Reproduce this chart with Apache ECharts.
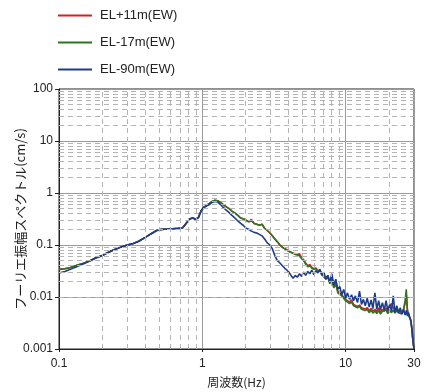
<!DOCTYPE html>
<html><head><meta charset="utf-8">
<script src="https://cdn.jsdelivr.net/npm/echarts@6/dist/echarts.min.js"></script>
<style>html,body{margin:0;padding:0;background:#fff}#c{width:426px;height:392px}</style>
</head><body><div id="c"></div>
<script>
const seriesNames = ['EL+11m(EW)', 'EL-17m(EW)', 'EL-90m(EW)'];
const freq = [0.1, 0.11, 0.12, 0.135, 0.15, 0.165, 0.18, 0.2, 0.22, 0.24, 0.27, 0.3, 0.33, 0.36, 0.4, 0.44, 0.48, 0.52, 0.57, 0.62, 0.68, 0.73, 0.78, 0.82, 0.86, 0.9, 0.94, 0.98, 1.02, 1.07, 1.12, 1.17, 1.22, 1.28, 1.34, 1.4, 1.47, 1.54, 1.61, 1.69, 1.77, 1.85, 1.93, 2.02, 2.11, 2.2, 2.3, 2.4, 2.5, 2.61, 2.72, 2.84, 2.96, 3.08, 3.21, 3.34, 3.48,
  3.62, 3.75, 3.88, 4.02, 4.16, 4.3, 4.45, 4.6, 4.76, 4.92, 5.09, 5.26, 5.44, 5.62, 5.81, 6.0, 6.2, 6.4, 6.61, 6.83, 7.05, 7.28, 7.52, 7.76, 8.01, 8.27, 8.54, 8.82, 9.1, 9.4, 9.7, 10.0, 10.3, 10.65, 11.0, 11.35, 11.7, 12.1, 12.5, 12.9, 13.3, 13.7, 14.15, 14.6, 15.05, 15.5, 16.0, 16.5, 17.0, 17.5, 18.05, 18.6, 19.15, 19.7, 20.3, 20.9, 21.5, 22.1, 22.75, 23.4, 24.05, 24.7, 25.35, 26.0, 26.5, 27.0, 27.5, 28.0, 28.5, 29.0, 29.5, 30.0];
const elP11 = [0.034, 0.035, 0.037, 0.041, 0.045, 0.05, 0.056, 0.063, 0.072, 0.08, 0.091, 0.1, 0.107, 0.118, 0.14, 0.165, 0.19, 0.2, 0.203, 0.206, 0.21, 0.215, 0.27, 0.32, 0.33, 0.31, 0.34, 0.45, 0.53, 0.58, 0.63, 0.69, 0.72, 0.71, 0.66, 0.6, 0.54, 0.5, 0.45, 0.41, 0.37, 0.33, 0.32, 0.3, 0.28, 0.31, 0.26, 0.25, 0.24, 0.25, 0.21, 0.19, 0.17, 0.15, 0.13, 0.115, 0.1,
  0.09, 0.086, 0.081, 0.076, 0.073, 0.07, 0.067, 0.066, 0.068, 0.057, 0.052, 0.045, 0.04, 0.042, 0.037, 0.035, 0.036, 0.032, 0.033, 0.028, 0.03, 0.023, 0.026, 0.019, 0.023, 0.016, 0.02, 0.013, 0.014, 0.011, 0.012, 0.009, 0.0098, 0.008, 0.0088, 0.0072, 0.0078, 0.0066, 0.007, 0.0062, 0.0066, 0.0059, 0.0062, 0.0054, 0.006, 0.0053, 0.0058, 0.0052, 0.0062, 0.0051, 0.0058, 0.0053, 0.0062, 0.0052, 0.0065, 0.0075, 0.0062, 0.0054, 0.006, 0.0054, 0.0058, 0.005, 0.0058, 0.0075, 0.011, 0.0055, 0.0045, 0.004, 0.0035, 0.0024, 0.0014, 0.001];
const elM17 = [0.034, 0.035, 0.037, 0.041, 0.045, 0.05, 0.056, 0.063, 0.072, 0.08, 0.091, 0.1, 0.107, 0.118, 0.14, 0.165, 0.19, 0.2, 0.203, 0.206, 0.21, 0.215, 0.27, 0.32, 0.33, 0.31, 0.34, 0.45, 0.53, 0.58, 0.63, 0.69, 0.72, 0.71, 0.66, 0.6, 0.54, 0.5, 0.45, 0.41, 0.37, 0.33, 0.32, 0.3, 0.28, 0.29, 0.26, 0.25, 0.24, 0.25, 0.21, 0.19, 0.17, 0.15, 0.13, 0.115, 0.1,
  0.09, 0.085, 0.08, 0.075, 0.072, 0.069, 0.066, 0.064, 0.062, 0.055, 0.05, 0.043, 0.038, 0.04, 0.036, 0.034, 0.035, 0.031, 0.032, 0.027, 0.029, 0.022, 0.024, 0.018, 0.021, 0.015, 0.018, 0.012, 0.013, 0.0105, 0.011, 0.0085, 0.009, 0.0075, 0.008, 0.0068, 0.0072, 0.0062, 0.0066, 0.0058, 0.0062, 0.0055, 0.0058, 0.005, 0.0056, 0.0049, 0.0054, 0.0048, 0.0055, 0.0047, 0.0053, 0.0049, 0.0056, 0.0048, 0.0055, 0.005, 0.0056, 0.0049, 0.0055, 0.005, 0.0054, 0.0047, 0.0056, 0.0085, 0.014, 0.0055, 0.0045, 0.004, 0.0035, 0.0024, 0.0014, 0.001];
const elM90 = [0.029, 0.031, 0.034, 0.039, 0.044, 0.05, 0.056, 0.063, 0.072, 0.08, 0.091, 0.1, 0.107, 0.118, 0.14, 0.165, 0.19, 0.2, 0.203, 0.206, 0.21, 0.215, 0.27, 0.32, 0.33, 0.31, 0.34, 0.45, 0.52, 0.56, 0.6, 0.66, 0.69, 0.67, 0.6, 0.53, 0.47, 0.42, 0.37, 0.33, 0.29, 0.26, 0.24, 0.21, 0.2, 0.185, 0.175, 0.17, 0.16, 0.15, 0.13, 0.11, 0.1, 0.085, 0.062, 0.05, 0.045,
  0.04, 0.036, 0.033, 0.03, 0.026, 0.023, 0.026, 0.024, 0.028, 0.025, 0.03, 0.026, 0.031, 0.028, 0.033, 0.027, 0.032, 0.029, 0.034, 0.026, 0.03, 0.022, 0.026, 0.019, 0.028, 0.017, 0.022, 0.014, 0.016, 0.011, 0.014, 0.0095, 0.012, 0.009, 0.011, 0.0085, 0.0105, 0.0078, 0.013, 0.0072, 0.009, 0.0068, 0.0095, 0.0064, 0.0088, 0.006, 0.012, 0.0058, 0.0085, 0.0057, 0.0078, 0.0056, 0.0085, 0.0055, 0.0072, 0.0053, 0.0105, 0.005, 0.0068, 0.0049, 0.0062, 0.0047, 0.0058, 0.0045, 0.0055, 0.0043, 0.005, 0.0041, 0.0036, 0.0025, 0.0015, 0.001];
const minorX = [0.2, 0.3, 0.4, 0.5, 0.6, 0.7, 0.8, 0.9, 2, 3, 4, 5, 6, 7, 8, 9, 20];
const minorY = [0.002, 0.003, 0.004, 0.005, 0.006, 0.007, 0.008, 0.009, 0.02, 0.03, 0.04, 0.05, 0.06, 0.07, 0.08, 0.09, 0.2, 0.3, 0.4, 0.5, 0.6, 0.7, 0.8, 0.9, 2, 3, 4, 5, 6, 7, 8, 9, 20, 30, 40, 50, 60, 70, 80, 90];
const colors = ['#d42020', '#2f7420', '#1c3c8c'];
const values = [elP11, elM17, elM90];

const chart = echarts.init(document.getElementById('c'));
const fontEn = "'Liberation Sans', Arial, sans-serif";
const fontJp = "'Noto Sans CJK JP', sans-serif";
const series = [{
  type: 'line', name: '_grid', data: [], z: 1, silent: true,
  markLine: {
    silent: true, symbol: ['none', 'none'], label: {show: false},
    lineStyle: {type: [5, 4], color: '#b4b4b4', width: 1},
    emphasis: {disabled: true},
    data: minorX.map(v => ({xAxis: v})).concat(minorY.map(v => ({yAxis: v})))
  }
}];
seriesNames.forEach((n, i) => {
  series.push({
    type: 'line', name: n, z: 2 + i, symbol: 'none', showSymbol: false,
    lineStyle: {color: colors[i], width: 1.6}, itemStyle: {color: colors[i]},
    data: freq.map((f, k) => [f, values[i][k]])
  });
});
chart.setOption({
  animation: false,
  color: colors,
  legend: {
    data: seriesNames, orient: 'vertical', left: 58, top: 8, padding: 0,
    icon: 'rect', itemWidth: 34, itemHeight: 2, itemGap: 12,
    textStyle: {fontFamily: fontEn, fontSize: 13, color: '#222', padding: [0, 0, 0, 3], lineHeight: 15}
  },
  grid: {left: 59, right: 12, top: 89, bottom: 43, show: true, borderColor: '#222', borderWidth: 1, outerBoundsMode: 'none', containLabel: false},
  xAxis: {
    type: 'log', logBase: 10, min: 0.1, max: 30,
    axisLine: {lineStyle: {color: '#222'}},
    axisTick: {show: true, length: 3, lineStyle: {color: '#222'}},
    splitLine: {show: true, lineStyle: {color: '#9a9a9a', width: 1}},
    axisLabel: {fontFamily: fontEn, fontSize: 12, color: '#222', margin: 9, formatter: v => String(+(+v).toPrecision(3))},
    name: '周波数(Hz)', nameLocation: 'middle', nameGap: 27, nameMoveOverlap: false,
    nameTextStyle: {fontFamily: fontJp, fontSize: 12, color: '#222'}
  },
  yAxis: {
    type: 'log', logBase: 10, min: 0.001, max: 100,
    axisLine: {lineStyle: {color: '#222'}},
    axisTick: {show: true, length: 4, lineStyle: {color: '#222'}},
    splitLine: {show: true, lineStyle: {color: '#9a9a9a', width: 1}},
    axisLabel: {fontFamily: fontEn, fontSize: 12, color: '#222', margin: 6, formatter: v => String(+(+v).toPrecision(3))},
    name: 'フーリエ振幅スペクトル(cm/s)', nameLocation: 'middle', nameGap: 32, nameRotate: 90, nameMoveOverlap: false,
    nameTextStyle: {fontFamily: fontJp, fontSize: 13, color: '#222'}
  },
  series: series
});
</script></body></html>
